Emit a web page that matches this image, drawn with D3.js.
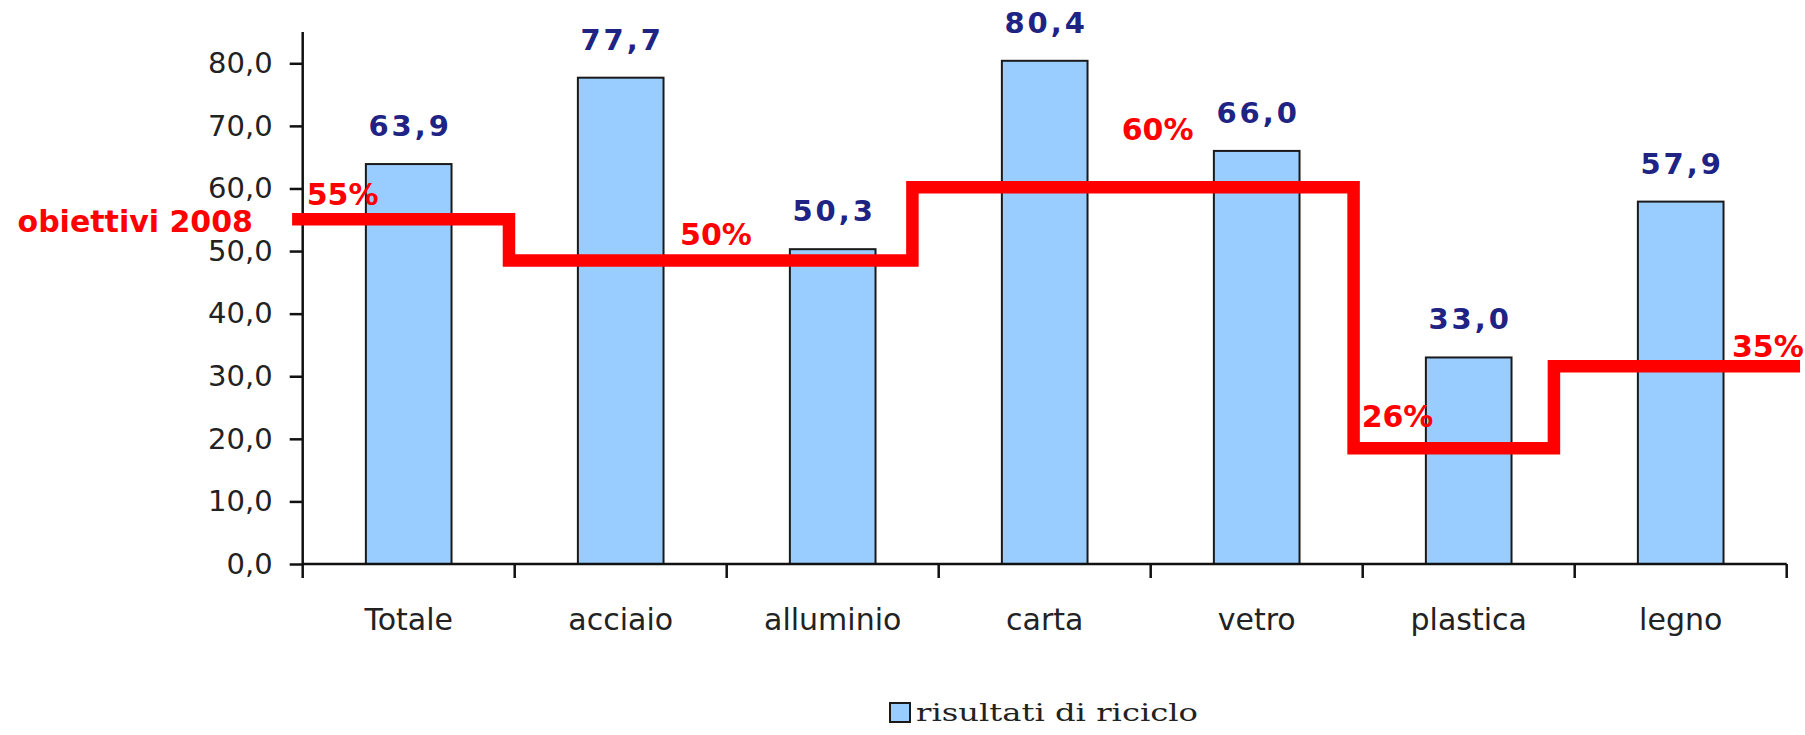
<!DOCTYPE html>
<html>
<head>
<meta charset="utf-8">
<script src="https://cdn.jsdelivr.net/npm/d3@7"></script>
<style>
  html, body { margin: 0; padding: 0; background: #fff; }
  svg { display: block; }
</style>
</head>
<body>
<svg id="chart" width="1805" height="735"></svg>
<script>
// ---- data ----
const categories = ["Totale", "acciaio", "alluminio", "carta", "vetro", "plastica", "legno"];
const values = [63.9, 77.7, 50.3, 80.4, 66.0, 33.0, 57.9];
const yTicks = [0, 10, 20, 30, 40, 50, 60, 70, 80];
const seriesName = "risultati di riciclo";

// target step line (as drawn on the picture)
const targetTitle = "obiettivi 2008";
const targetLabels = ["55%", "50%", "60%", "26%", "35%"];
const targetLevels = [55.1, 48.5, 60.2, 18.5, 31.6];
const targetSteps = [-0.05, 0.973, 2.876, 4.957, 5.902, 7.063]; // in category units
const targetLabelAt = [[0.019, 57.4], [1.78, 51.0], [3.863, 67.7], [4.995, 21.9], [6.742, 33.1]];

// ---- layout ----
const svg = d3.select("#chart");
const X0 = 302.7, X1 = 1786.7, Y0 = 564, Y1 = 32;
const x = d3.scaleBand().domain(categories).range([X0, X1]).padding(0);
const u = d3.scaleLinear().domain([0, categories.length]).range([X0, X1]);
const y = d3.scaleLinear().domain([0, 85]).range([Y0, Y1]);
const bw = x.bandwidth();
const barFrac = 0.404;
const fmt = v => d3.format(".1f")(v).replace(".", ",");

// bars
svg.append("g").selectAll("rect").data(values).join("rect")
  .attr("x", (d, i) => x(categories[i]) + bw * (1 - barFrac) / 2)
  .attr("y", d => y(d))
  .attr("width", bw * barFrac)
  .attr("height", d => y(0) - y(d))
  .attr("fill", "#99CCFF")
  .attr("stroke", "#1a1a1a")
  .attr("stroke-width", 2);

// y axis
const yAxis = svg.append("g").attr("transform", `translate(${X0},0)`)
  .call(d3.axisLeft(y).tickValues(yTicks).tickSize(13).tickPadding(17).tickFormat(fmt));
yAxis.select(".domain").remove();
yAxis.selectAll(".tick line").attr("stroke", "#111").attr("stroke-width", 2.5);
yAxis.selectAll(".tick text")
  .attr("font-family", "DejaVu Sans").attr("font-size", 29).attr("fill", "#222");
svg.append("line").attr("x1", X0).attr("x2", X0).attr("y1", y(85)).attr("y2", Y0 + 14)
  .attr("stroke", "#111").attr("stroke-width", 2.5);

// x axis baseline and boundary ticks
svg.append("line").attr("x1", X0).attr("x2", X1).attr("y1", Y0).attr("y2", Y0)
  .attr("stroke", "#111").attr("stroke-width", 2.5);
const bounds = categories.map(c => x(c)).concat([X1]);
svg.append("g").selectAll("line").data(bounds.slice(1)).join("line")
  .attr("x1", d => d).attr("x2", d => d).attr("y1", Y0).attr("y2", Y0 + 14)
  .attr("stroke", "#111").attr("stroke-width", 2.5);

// category labels
svg.append("g").selectAll("text").data(categories).join("text")
  .attr("x", d => x(d) + bw / 2)
  .attr("y", 630)
  .attr("text-anchor", "middle")
  .attr("font-family", "DejaVu Sans").attr("font-size", 30).attr("fill", "#222")
  .text(d => d);

// target step line
const pts = targetLevels.map((v, i) => [u(targetSteps[i]), y(v)]);
pts.push([u(targetSteps[targetSteps.length - 1]), y(targetLevels[targetLevels.length - 1])]);
svg.append("path")
  .attr("d", d3.line().curve(d3.curveStepAfter)(pts))
  .attr("fill", "none")
  .attr("stroke", "#FF0000")
  .attr("stroke-width", 12.5)
  .attr("stroke-linejoin", "miter")
  .attr("stroke-linecap", "butt");

// value labels
const ls = 3;
svg.append("g").selectAll("text").data(values).join("text")
  .attr("x", (d, i) => x(categories[i]) + bw / 2 + ls / 2)
  .attr("y", d => y(d) - 28)
  .attr("text-anchor", "middle")
  .attr("font-family", "DejaVu Sans").attr("font-weight", "bold")
  .attr("font-size", 29).attr("letter-spacing", ls)
  .attr("fill", "#1F2383")
  .text(d => fmt(d));

// target labels
svg.append("g").selectAll("text").data(targetLabels).join("text")
  .attr("x", (d, i) => u(targetLabelAt[i][0]))
  .attr("y", (d, i) => y(targetLabelAt[i][1]))
  .attr("font-family", "DejaVu Sans").attr("font-weight", "bold")
  .attr("font-size", 30).attr("fill", "#FF0000")
  .text(d => d);

svg.append("text")
  .attr("x", 253).attr("y", 231.5)
  .attr("text-anchor", "end")
  .attr("font-family", "DejaVu Sans").attr("font-weight", "bold")
  .attr("font-size", 30).attr("fill", "#FF0000")
  .text(targetTitle);

// legend
const lg = svg.append("g").attr("transform", "translate(890,703)");
lg.append("rect").attr("x", 0).attr("y", 0).attr("width", 20).attr("height", 19)
  .attr("fill", "#99CCFF").attr("stroke", "#1a1a1a").attr("stroke-width", 2);
lg.append("text").attr("x", 26).attr("y", 18)
  .attr("font-family", "DejaVu Serif").attr("font-size", 25).attr("fill", "#222")
  .attr("textLength", 282).attr("lengthAdjust", "spacingAndGlyphs")
  .text(seriesName);
</script>
</body>
</html>
